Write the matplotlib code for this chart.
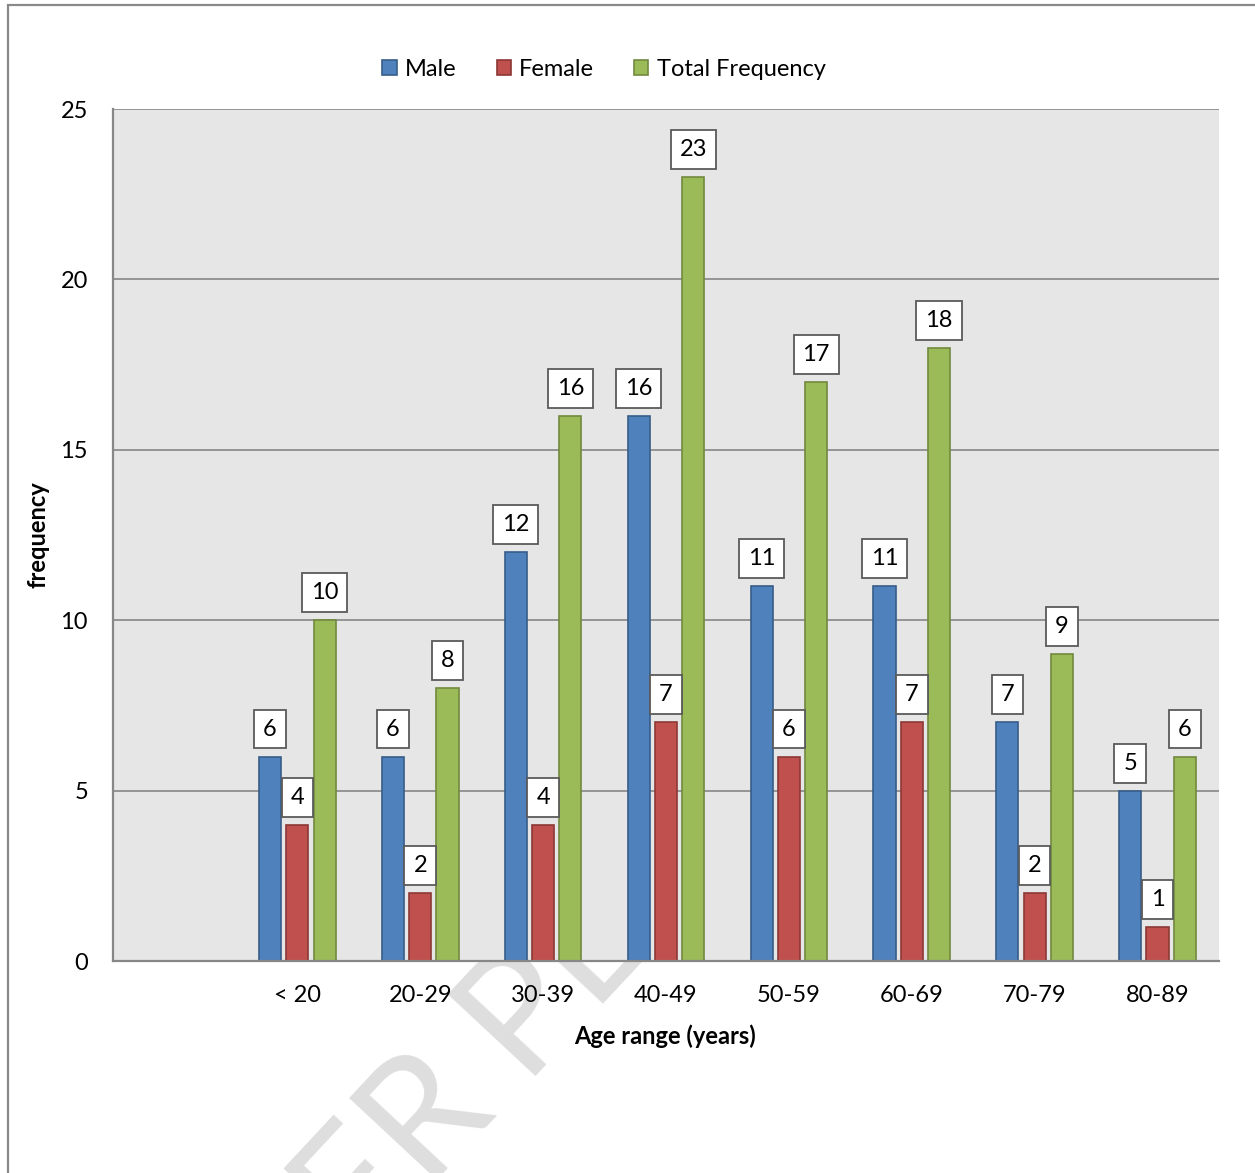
import numpy as np
import matplotlib.pyplot as plt
from matplotlib.patches import Rectangle

plt.rcParams["font.family"] = ["Lato", "DejaVu Sans"]

ageRanges = ["< 20", "20-29", "30-39", "40-49", "50-59", "60-69", "70-79", "80-89"]
maleCounts = [6, 6, 12, 16, 11, 11, 7, 5]
femaleCounts = [4, 2, 4, 7, 6, 7, 2, 1]
totalCounts = [10, 8, 16, 23, 17, 18, 9, 6]
yTicks = [0, 5, 10, 15, 20, 25]

seriesNames = ["Male", "Female", "Total Frequency"]
faceColors = ["#4F81BD", "#C0504D", "#9BBB59"]
edgeColors = ["#385D8A", "#8C3836", "#71893F"]

myFigure = plt.figure(figsize=(12.55, 11.73), dpi=100)

# watermark behind the chart (only its lower part is visible below the plot area)
myFigure.text(0.394, 0.0588, "UNDER", rotation=47, rotation_mode="anchor",
              ha="right", va="baseline", fontsize=120, color="#dedede", zorder=0.5)
myFigure.text(0.415, 0.0827, "PEER", rotation=47, rotation_mode="anchor",
              ha="left", va="baseline", fontsize=120, color="#dedede", zorder=0.5)

# outer frame of the chart object
myFigure.patches.append(Rectangle((8 / 1255, -0.05), 1.2, 1 - 5 / 1173 + 0.05,
                                  transform=myFigure.transFigure, fill=False,
                                  edgecolor="#898989", linewidth=1.6))

myAxis = myFigure.add_axes([113 / 1255, 1 - 961 / 1173, 1106 / 1255, 852 / 1173])
myAxis.set_zorder(1)
myAxis.set_facecolor("#E6E6E6")

positions = np.arange(1, len(ageRanges) + 1)
barWidth = 0.18
offsets = [-0.222, 0, 0.222]
allValues = [maleCounts, femaleCounts, totalCounts]

for values, offset, name, fc, ec in zip(allValues, offsets, seriesNames, faceColors, edgeColors):
    bars = myAxis.bar(positions + offset, values, barWidth, color=fc, edgecolor=ec,
                      linewidth=1.2, label=name, zorder=3)
    for bar, value in zip(bars, values):
        myAxis.annotate(str(value), (bar.get_x() + bar.get_width() / 2, value),
                        xytext=(0, 17), textcoords="offset pixels", ha="center", va="bottom",
                        fontsize=17, zorder=4,
                        bbox=dict(boxstyle="square,pad=0.38", facecolor="white",
                                  edgecolor="#5a5a5a", linewidth=1.3))

myAxis.set_xlim(-0.5, len(ageRanges) + 0.5)
myAxis.set_ylim(0, 25)
myAxis.set_yticks(yTicks)
myAxis.set_xticks(positions)
myAxis.set_xticklabels(ageRanges)
myAxis.tick_params(axis="both", length=0, labelsize=17)
myAxis.tick_params(axis="y", pad=18)
myAxis.tick_params(axis="x", pad=17)
myAxis.yaxis.grid(True, color="#878787", linewidth=1.2, zorder=1)
myAxis.set_axisbelow(True)

for side in ["right", "top"]:
    myAxis.spines[side].set_visible(False)
for side in ["left", "bottom"]:
    myAxis.spines[side].set_color("#878787")
    myAxis.spines[side].set_linewidth(1.6)
    myAxis.spines[side].set_zorder(5)

myFigure.text(38 / 1255, 1 - 535 / 1173, "frequency", rotation=90, ha="center", va="center",
              fontsize=17, fontweight="bold")
myFigure.text(665 / 1255, 1 - 1036 / 1173, "Age range (years)", ha="center", va="center",
              fontsize=17, fontweight="bold")

myFigure.legend(loc="center", bbox_to_anchor=(604 / 1255, 1 - 69 / 1173), ncol=3,
                frameon=False, fontsize=17, handlelength=0.6, handleheight=0.6,
                handletextpad=0.35, columnspacing=1.7)

myFigure.savefig("out.png", dpi=100)
